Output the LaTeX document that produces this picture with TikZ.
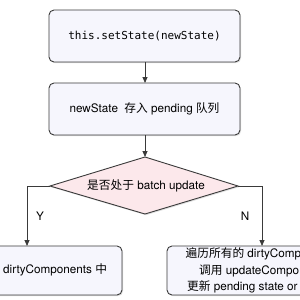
\documentclass[tikz,border=0pt]{standalone}
\usepackage{fontspec}
\setmainfont{TeX Gyre Heros}
\newfontfamily\cjk{Noto Sans CJK SC}
\newfontfamily\monof{DejaVu Sans Mono}
\usetikzlibrary{shadows,arrows.meta}
\definecolor{boxfill}{HTML}{F6F6FD}
\definecolor{diafill}{HTML}{FCE8EB}
\definecolor{edge}{HTML}{3A3A3A}
\tikzset{
  procbox/.style={draw=edge, line width=0.9pt, fill=boxfill, rounded corners=5pt,
    drop shadow={opacity=0.25, shadow xshift=1pt, shadow yshift=-1.2pt}},
  decision/.style={draw=edge, line width=0.9pt, fill=diafill,
    drop shadow={opacity=0.25, shadow xshift=1pt, shadow yshift=-1.2pt}},
  conn/.style={draw=edge, line width=0.8pt, -{Triangle[length=6pt,width=5pt]}},
  lbl/.style={font=\fontsize{11.7}{13}\selectfont, text=black, inner sep=0pt},
}
\begin{document}
\begin{tikzpicture}[x=1pt,y=-1pt]
\useasboundingbox (0,0) rectangle (300,300);
% boxes
\draw[procbox] (49,10) rectangle (240,62);
\node[lbl, font=\monof\fontsize{11}{13}\selectfont] (t1) at (144.5,36) {this.setState(newState)};
\coordinate (b1s) at (145,62);
\draw[procbox] (49,83) rectangle (240,135);
\node[lbl] (t2) at (144.5,109) {newState\ \ {\cjk 存入} pending {\cjk 队列}};
\coordinate (b2n) at (145,83);
\coordinate (b2s) at (145,135);
% diamond
\coordinate (dt) at (145,157);
\coordinate (dl) at (50,186);
\coordinate (dr) at (238,186);
\coordinate (db) at (145,214);
\draw[decision] (dt) -- (dr) -- (db) -- (dl) -- cycle;
\node[lbl] (t3) at (146,185.5) {{\cjk 是否处于} batch update};
% bottom boxes
\draw[procbox] (-70,246) rectangle (122,295);
\node[lbl, anchor=west] (t4) at (3,270) {dirtyComponents {\cjk 中}};
\draw[procbox] (167,246) rectangle (380,295);
\node[lbl, anchor=west] (t5) at (185.5,253.5) {{\cjk 遍历所有的} dirtyComp};
\node[lbl, anchor=west] (t6) at (199,270.5) {{\cjk 调用} updateCompo};
\node[lbl, anchor=west] (t7) at (187,287) {{\cjk 更新} pending state or};
\coordinate (lbn) at (27,246);
\coordinate (rbn) at (262,246);
% connectors
\draw[conn] (b1s) -- (b2n);
\draw[conn] (b2s) -- (dt);
\draw[conn] (dl) -| (lbn);
\draw[conn] (dr) -| (rbn);
\node[lbl] (y) at (40,216.5) {Y};
\node[lbl] (n) at (245,216.5) {N};
\end{tikzpicture}
\end{document}
